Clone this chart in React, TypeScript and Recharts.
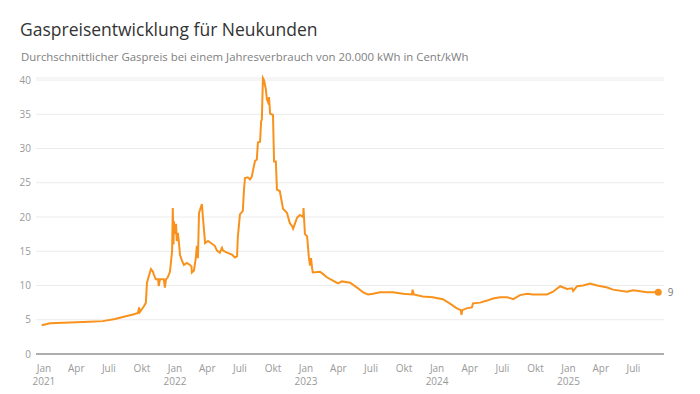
import React from "react";
import {
  LineChart,
  Line,
  XAxis,
  YAxis,
  CartesianGrid,
  ReferenceDot,
} from "recharts";

// Durchschnittlicher Gaspreis (Cent/kWh)
const dates = [
  "2020-12-26", "2021-01-18", "2021-03-14", "2021-05-09", "2021-06-14", "2021-07-18", "2021-08-17", "2021-09-09",
  "2021-09-20", "2021-09-23", "2021-09-25", "2021-10-07", "2021-10-12", "2021-10-15", "2021-10-21", "2021-10-26",
  "2021-11-01", "2021-11-03", "2021-11-09", "2021-11-15", "2021-11-17", "2021-11-20", "2021-12-01", "2021-12-04",
  "2021-12-07", "2021-12-12", "2021-12-18", "2021-12-21", "2021-12-24", "2021-12-26", "2021-12-28", "2021-12-29",
  "2022-01-01", "2022-01-04", "2022-01-06", "2022-01-09", "2022-01-12", "2022-01-15", "2022-01-20", "2022-01-26",
  "2022-02-03", "2022-02-12", "2022-02-16", "2022-02-17", "2022-02-23", "2022-02-28", "2022-03-03", "2022-03-06",
  "2022-03-09", "2022-03-17", "2022-03-20", "2022-03-26", "2022-04-03", "2022-04-14", "2022-04-22", "2022-04-28",
  "2022-05-06", "2022-05-12", "2022-05-15", "2022-05-26", "2022-06-09", "2022-06-17", "2022-06-23", "2022-06-25",
  "2022-07-01", "2022-07-09", "2022-07-12", "2022-07-15", "2022-07-23", "2022-07-29", "2022-08-03", "2022-08-06",
  "2022-08-12", "2022-08-17", "2022-08-20", "2022-08-26", "2022-08-29", "2022-08-31", "2022-09-03", "2022-09-06",
  "2022-09-11", "2022-09-14", "2022-09-17", "2022-09-20", "2022-09-23", "2022-10-01", "2022-10-04", "2022-10-09",
  "2022-10-12", "2022-10-20", "2022-10-29", "2022-11-09", "2022-11-17", "2022-11-23", "2022-11-26", "2022-12-01",
  "2022-12-07", "2022-12-15", "2022-12-24", "2022-12-25", "2022-12-29", "2023-01-04", "2023-01-09", "2023-01-12",
  "2023-01-15", "2023-01-18", "2023-01-20", "2023-02-09", "2023-02-17", "2023-02-28", "2023-03-17", "2023-03-31",
  "2023-04-11", "2023-05-04", "2023-05-23", "2023-06-09", "2023-06-23", "2023-07-07", "2023-07-26", "2023-08-31",
  "2023-09-28", "2023-10-23", "2023-10-25", "2023-10-28", "2023-11-22", "2023-12-20", "2024-01-17", "2024-02-05",
  "2024-02-24", "2024-03-07", "2024-03-09", "2024-03-11", "2024-03-25", "2024-04-07", "2024-04-10", "2024-04-30",
  "2024-05-19", "2024-06-05", "2024-06-24", "2024-07-14", "2024-07-31", "2024-08-19", "2024-09-08", "2024-09-24",
  "2024-11-02", "2024-11-19", "2024-12-09", "2024-12-28", "2025-01-11", "2025-01-14", "2025-01-25", "2025-02-11",
  "2025-03-02", "2025-03-22", "2025-04-19", "2025-05-05", "2025-06-13", "2025-06-30", "2025-08-08", "2025-09-08",
];

const prices = [
  4.2, 4.5, 4.6, 4.7, 4.8, 5.1, 5.5, 5.8,
  6.0, 6.8, 6.1, 7.0, 7.5, 10.4, 11.5, 12.4,
  12.0, 11.6, 10.9, 10.9, 9.9, 10.9, 10.9, 9.7,
  10.9, 11.2, 12.0, 13.5, 15.0, 21.3, 16.0, 19.4,
  17.5, 19.0, 16.5, 17.7, 16.3, 14.5, 13.7, 13.0,
  13.3, 13.0, 12.8, 11.9, 12.2, 14.0, 15.8, 14.0,
  20.6, 21.9, 19.9, 16.2, 16.5, 16.1, 15.8, 15.1,
  14.8, 15.5, 15.1, 14.8, 14.5, 14.1, 14.3, 17.0,
  20.4, 20.9, 23.8, 25.7, 25.8, 25.5, 25.9, 26.7,
  28.2, 28.4, 30.9, 31.0, 34.0, 34.2, 40.3, 40.0,
  38.7, 37.2, 36.8, 37.5, 35.1, 34.9, 28.1, 28.1,
  24.0, 23.8, 21.2, 20.6, 19.1, 18.7, 18.3, 19.0,
  19.9, 20.3, 20.0, 21.3, 17.5, 17.2, 14.1, 12.9,
  14.0, 12.5, 11.9, 12.0, 11.7, 11.2, 10.7, 10.3,
  10.6, 10.4, 9.7, 9.0, 8.7, 8.8, 9.0, 9.0,
  8.8, 8.7, 9.4, 8.7, 8.4, 8.3, 8.0, 7.4,
  6.7, 6.4, 5.7, 6.4, 6.7, 6.8, 7.4, 7.5,
  7.8, 8.1, 8.3, 8.3, 8.0, 8.6, 8.8, 8.7,
  8.7, 9.1, 9.9, 9.5, 9.6, 9.2, 9.9, 10.0,
  10.3, 10.0, 9.7, 9.4, 9.1, 9.3, 9.0, 9.0,
];

const tickDates = [
  "2021-01-01", "2021-04-01", "2021-07-01", "2021-10-01",
  "2022-01-01", "2022-04-01", "2022-07-01", "2022-10-01",
  "2023-01-01", "2023-04-01", "2023-07-01", "2023-10-01",
  "2024-01-01", "2024-04-01", "2024-07-01", "2024-10-01",
  "2025-01-01", "2025-04-01", "2025-07-01",
];
const monthNames = ["Jan", "Apr", "Juli", "Okt"];
const yTicks = [0, 5, 10, 15, 20, 25, 30, 35, 40];

const DAY = 86400000;
const base = Date.parse("2021-01-01");
const toDay = (d: string) => Math.round((Date.parse(d) - base) / DAY);

const data = dates.map((d, i) => ({ t: toDay(d), price: prices[i] }));
const ticks = tickDates.map(toDay);
const last = data[data.length - 1];

const FONT = "'Open Sans', 'Noto Sans', sans-serif";

const MonthTick = (props: any) => {
  const { x, y, index } = props;
  const label = monthNames[index % 4];
  const year = index % 4 === 0 ? tickDates[index].slice(0, 4) : null;
  return (
    <g>
      <text x={x} y={y + 10} textAnchor="middle" fontSize={10} fill="#999" fontFamily={FONT}>
        {label}
      </text>
      {year && (
        <text x={x} y={y + 23} textAnchor="middle" fontSize={10} fill="#999" fontFamily={FONT}>
          {year}
        </text>
      )}
    </g>
  );
};

export default function App() {
  return (
    <div style={{ position: "absolute", left: 0, top: 0, width: 700, height: 394, background: "#fff", fontFamily: FONT }}>
      <div style={{ position: "absolute", left: 20, top: 17, fontSize: 17.5, color: "#333", whiteSpace: "nowrap" }}>
        Gaspreisentwicklung für Neukunden
      </div>
      <div style={{ position: "absolute", left: 21, top: 49, fontSize: 11.4, color: "#808080", whiteSpace: "nowrap" }}>
        Durchschnittlicher Gaspreis bei einem Jahresverbrauch von 20.000 kWh in Cent/kWh
      </div>
      <LineChart
        width={700}
        height={394}
        data={data}
        margin={{ top: 78, right: 36, bottom: 0, left: 10 }}
        style={{ position: "absolute", left: 0, top: 0 }}
      >
        <CartesianGrid vertical={false} stroke="#ebebeb" />
        <XAxis
          dataKey="t"
          type="number"
          domain={[-22, 1727]}
          ticks={ticks}
          tick={<MonthTick />}
          tickLine={false}
          stroke="#666"
          height={40}
          interval={0}
        />
        <YAxis
          type="number"
          domain={[0, 40]}
          ticks={yTicks}
          width={26}
          axisLine={false}
          tickLine={false}
          tickSize={3}
          tickMargin={2}
          tick={{ fontSize: 10, fill: "#999", fontFamily: FONT }}
        />
        <Line
          type="linear"
          dataKey="price"
          stroke="#f8921c"
          strokeWidth={2}
          dot={false}
          isAnimationActive={false}
        />
        <ReferenceDot
          x={last.t}
          y={last.price}
          r={3.5}
          fill="#f8921c"
          stroke="none"
          label={{ value: String(Math.round(last.price)), position: "right", fill: "#777", fontSize: 10, fontFamily: FONT, offset: 6 }}
        />
      </LineChart>
    </div>
  );
}
